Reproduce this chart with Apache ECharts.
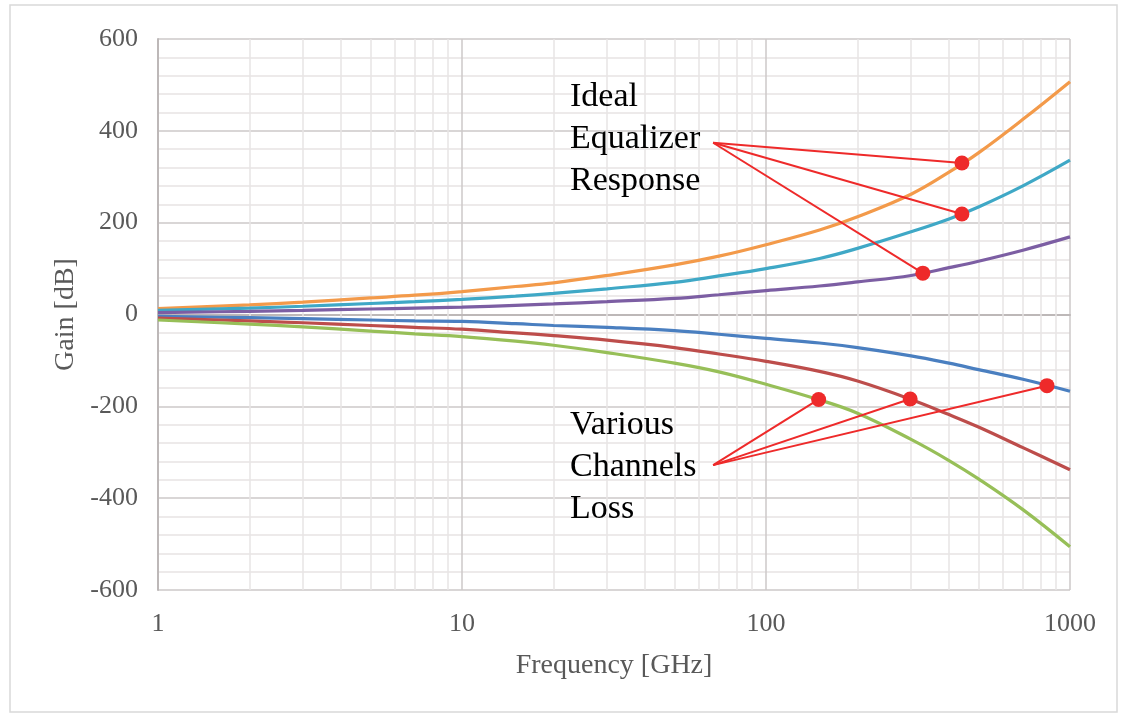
<!DOCTYPE html>
<html>
<head>
<meta charset="utf-8">
<script src="https://cdn.jsdelivr.net/npm/echarts@6/dist/echarts.min.js"></script>
<style>
  html, body { margin: 0; padding: 0; background: #ffffff; }
  #chart { width: 1124px; height: 713px; }
</style>
</head>
<body>
<div id="chart"></div>
<script>
// Frequency sample points (GHz) shared by all curves
const freqGHz = [1, 2, 3, 5, 7, 10, 15, 20, 30, 50, 70, 100, 150, 200, 300, 400, 500, 700, 1000];

// Ideal equalizer responses (dB)
const eqOrange = [13, 21, 27, 36, 42, 50, 61, 69, 85, 108, 127, 152, 184, 213, 262, 310, 352, 425, 507];
const eqCyan   = [9, 14, 18, 24, 28, 33, 40, 46, 56, 70, 84, 100, 122, 144, 180, 208, 234, 280, 336];
const eqPurple = [4, 7, 9, 12, 14, 16, 20, 23, 28, 35, 43, 52, 62, 71, 85, 102, 116, 140, 169];

// Channel losses (dB)
const lossBlue  = [-4, -7, -9, -12, -14, -15, -20, -24, -28, -35, -43, -52, -62, -72, -90, -106, -120, -141, -167];
const lossRed   = [-8, -14, -18, -24, -28, -32, -40, -46, -56, -72, -86, -102, -124, -145, -185, -218, -245, -290, -338];
const lossGreen = [-12, -21, -27, -36, -42, -48, -58, -67, -83, -106, -125, -152, -186, -215, -272, -318, -358, -425, -506];

// Minor vertical grid positions on the log frequency axis
const minorFreq = [2, 3, 4, 5, 6, 7, 8, 9, 20, 30, 40, 50, 60, 70, 80, 90, 200, 300, 400, 500, 600, 700, 800, 900];

// Callout anchors and the points they mark on the curves
const eqAnchor = [67, 374];
const eqDots = [[441, 330], [441, 219], [328, 90]];
const lossAnchor = [67, -328];
const lossDots = [[149, -185], [298, -184], [840, -155]];

const serif = '"Liberation Serif", "Times New Roman", serif';
const red = '#ee2a2a';
const gridMajor = '#cdc9c9';
const gridMinor = '#e7e4e4';

function curve(name, values, color) {
  return {
    name, type: 'line', z: 4,
    data: freqGHz.map((f, i) => [f, values[i]]),
    smooth: 0.4,
    showSymbol: false, symbol: 'none',
    lineStyle: { color, width: 3.2 }
  };
}

function callout(anchor, dots) {
  return {
    type: 'lines', coordinateSystem: 'cartesian2d', z: 6,
    silent: true, symbol: 'none',
    lineStyle: { color: red, width: 2, opacity: 1, curveness: 0 },
    data: dots.map(d => ({ coords: [anchor, d] }))
  };
}

const chart = echarts.init(document.getElementById('chart'));
chart.setOption({
  animation: false,
  backgroundColor: '#ffffff',
  grid: { left: 158, right: 54, top: 39, bottom: 123, containLabel: false },
  xAxis: {
    type: 'log', logBase: 10, min: 1, max: 1000,
    name: 'Frequency [GHz]', nameLocation: 'middle', nameGap: 62,
    nameTextStyle: { fontFamily: serif, fontSize: 28, color: '#595959' },
    axisLine: { show: true, lineStyle: { color: '#bdb8b8', width: 2 } },
    axisTick: { show: false },
    axisLabel: {
      fontFamily: serif, fontSize: 26, color: '#595959', margin: 21,
      formatter: v => String(Math.round(v))
    },
    splitLine: { show: true, lineStyle: { color: gridMajor, width: 1.5 } }
  },
  yAxis: {
    type: 'value', min: -600, max: 600, interval: 200,
    name: 'Gain [dB]', nameLocation: 'middle', nameGap: 78,
    nameTextStyle: { fontFamily: serif, fontSize: 28, color: '#595959' },
    axisLine: { show: true, lineStyle: { color: '#bdb8b8', width: 2 } },
    axisTick: { show: false },
    axisLabel: { fontFamily: serif, fontSize: 26, color: '#595959', margin: 20 },
    splitLine: { show: true, lineStyle: { color: gridMajor, width: 1.5 } },
    minorTick: { show: false, splitNumber: 5 },
    minorSplitLine: { show: true, lineStyle: { color: gridMinor, width: 1.5 } }
  },
  series: [
    {
      type: 'line', z: 1, data: [], silent: true,
      markLine: {
        z: 1, silent: true, symbol: ['none', 'none'], animation: false,
        label: { show: false },
        emphasis: { disabled: true },
        lineStyle: { color: gridMinor, width: 1.5, type: 'solid' },
        data: minorFreq.map(f => ({ xAxis: f }))
      }
    },
    curve('eqOrange', eqOrange, '#f39a4a'),
    curve('eqCyan', eqCyan, '#3fa8c6'),
    curve('eqPurple', eqPurple, '#7c5ea3'),
    curve('lossBlue', lossBlue, '#4a7fc0'),
    curve('lossRed', lossRed, '#bd4d4b'),
    curve('lossGreen', lossGreen, '#97bf58'),
    callout(eqAnchor, eqDots),
    callout(lossAnchor, lossDots),
    {
      type: 'scatter', z: 7, silent: true,
      symbol: 'circle', symbolSize: 15,
      itemStyle: { color: red, opacity: 1 },
      data: eqDots.concat(lossDots)
    }
  ],
  graphic: [
    {
      type: 'rect', silent: true, z: -1,
      shape: { x: 10, y: 5, width: 1107, height: 707 },
      style: { fill: 'none', stroke: '#d9d9d9', lineWidth: 1.5 }
    },
    {
      type: 'text', left: 570, top: 76, z: 10, silent: true,
      style: { text: 'Ideal\nEqualizer\nResponse', font: '34px ' + serif, fill: '#000', lineHeight: 42 }
    },
    {
      type: 'text', left: 570, top: 404, z: 10, silent: true,
      style: { text: 'Various\nChannels\nLoss', font: '34px ' + serif, fill: '#000', lineHeight: 42 }
    }
  ]
});
</script>
</body>
</html>
